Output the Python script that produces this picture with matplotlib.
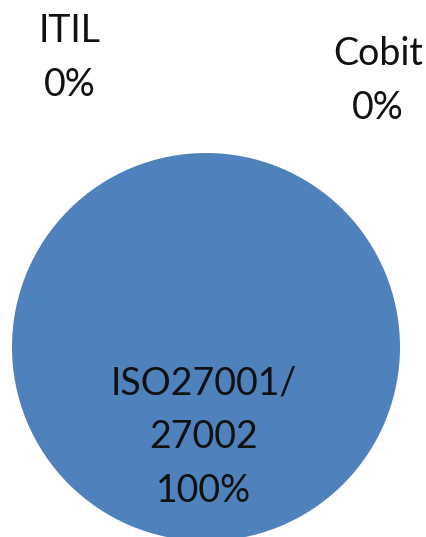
import matplotlib
matplotlib.use('Agg')
import matplotlib.pyplot as plt

# data
categories = ['ITIL', 'Cobit', 'ISO27001/\n27002']
values = [0, 0, 100]
colors = ['#C0504D', '#9BBB59', '#4F81BD']

plt.rcParams['font.family'] = ['Lato', 'DejaVu Sans']

fig = plt.figure(figsize=(4.27, 5.37), dpi=100)
ax = fig.add_axes([0, 0, 1, 1])

cx, cy, r = 206, 347, 194
ax.pie(values, colors=colors, center=(cx, cy), radius=r, startangle=90,
       counterclock=False, wedgeprops=dict(linewidth=0), frame=True)
ax.set_xlim(0, 427)
ax.set_ylim(537, 0)
ax.set_aspect('equal')
ax.axis('off')

total = sum(values)
label_pos = [(70, 58), (378, 81), (204, 437)]
for name, v, (x, y) in zip(categories, values, label_pos):
    ax.text(x, y, f'{name}\n{v / total * 100:.0f}%', ha='center', va='center',
            fontsize=27, linespacing=1.62, color='#111111')

fig.savefig('out.png', dpi=100)
